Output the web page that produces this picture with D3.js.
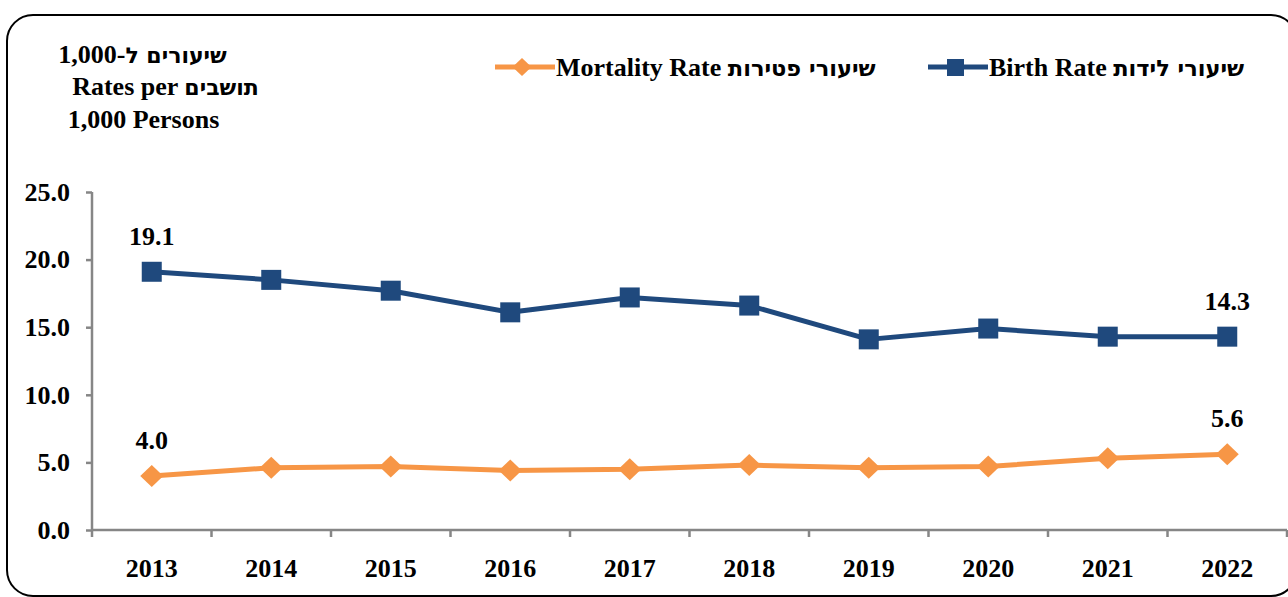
<!DOCTYPE html>
<html>
<head>
<meta charset="utf-8">
<script src="https://cdn.jsdelivr.net/npm/d3@7"></script>
<style>
  html, body { margin: 0; padding: 0; background: #fff; }
  svg { display: block; }
  text { font-family: "Liberation Serif", "Times New Roman", serif; font-weight: bold; fill: #000; }
  tspan.he { font-family: "DejaVu Sans", sans-serif; font-weight: bold; }
</style>
</head>
<body>
<script>
const years = ["2013","2014","2015","2016","2017","2018","2019","2020","2021","2022"];
const birthRate = [19.1, 18.5, 17.7, 16.1, 17.2, 16.6, 14.1, 14.9, 14.3, 14.3];
const mortalityRate = [4.0, 4.6, 4.7, 4.4, 4.5, 4.8, 4.6, 4.7, 5.3, 5.6];
const yTicks = [0, 5, 10, 15, 20, 25];
// text runs: [text, isHebrew]
const birthLabel = [["Birth Rate ", false], ["שיעורי לידות", true]];
const mortalityLabel = [["Mortality Rate ", false], ["שיעורי פטירות", true]];
const titleLines = [
  [["שיעורים ל", true], ["-1,000", false]],
  [["Rates per ", false], ["תושבים", true]],
  [["1,000 Persons", false]]
];

const W = 1288, H = 597;
const blue = "#1F497D", orange = "#F79646", axisGray = "#868686";

const svg = d3.select("body").append("svg").attr("width", W).attr("height", H);

function richText(sel, runs, heSize) {
  runs.forEach(([t, he]) => {
    const ts = sel.append("tspan").text(t);
    if (he) ts.attr("class", "he").style("font-size", heSize + "px");
  });
  return sel;
}

// frame
svg.append("rect").attr("x", 7).attr("y", 15).attr("width", 1290).attr("height", 581)
  .attr("rx", 26).attr("ry", 26).attr("fill", "none").attr("stroke", "#000").attr("stroke-width", 2);

const x = d3.scaleBand().domain(years).range([92, 1287]);
const y = d3.scaleLinear().domain([0, 25]).range([530, 192]);

// axes
const yAxis = svg.append("g").attr("transform", "translate(92,0)")
  .call(d3.axisLeft(y).tickValues(yTicks).tickFormat(d3.format(".1f")).tickSize(6).tickPadding(16));
const xAxis = svg.append("g").attr("transform", "translate(0,530)")
  .call(d3.axisBottom(x).tickSize(0).tickPadding(29));

[yAxis, xAxis].forEach(g => {
  g.select(".domain").attr("stroke", axisGray).attr("stroke-width", 2.5);
  g.selectAll(".tick line").attr("stroke", axisGray).attr("stroke-width", 2.5);
  g.selectAll(".tick text").style("font-size", "26px").style("font-family", "Liberation Serif").style("font-weight", "bold").attr("fill", "#000");
});
yAxis.select(".domain").attr("d", `M0,${y(25)}V${y(0)}`);
xAxis.select(".domain").attr("d", `M92,0H1287`);

// x boundary ticks
const bounds = years.map(d => x(d)).concat([x(years[years.length - 1]) + x.bandwidth()]);
xAxis.selectAll(".bt").data(bounds).enter().append("line")
  .attr("x1", d => d).attr("x2", d => d).attr("y1", 0).attr("y2", 7)
  .attr("stroke", axisGray).attr("stroke-width", 2.5);

const cx = i => x(years[i]) + x.bandwidth() / 2;
const line = d3.line().x((d, i) => cx(i)).y(d => y(d));

// birth rate
svg.append("path").datum(birthRate).attr("d", line).attr("fill", "none")
  .attr("stroke", blue).attr("stroke-width", 5).attr("stroke-linejoin", "round");
svg.selectAll(".sq").data(birthRate).enter().append("rect")
  .attr("x", (d, i) => cx(i) - 10).attr("y", d => y(d) - 10)
  .attr("width", 20).attr("height", 20).attr("fill", blue);

// mortality rate
svg.append("path").datum(mortalityRate).attr("d", line).attr("fill", "none")
  .attr("stroke", orange).attr("stroke-width", 5).attr("stroke-linejoin", "round");
const diamond = (px, py, w, h) => `M${px},${py - h / 2}L${px + w / 2},${py}L${px},${py + h / 2}L${px - w / 2},${py}Z`;
svg.selectAll(".dm").data(mortalityRate).enter().append("path")
  .attr("d", (d, i) => diamond(cx(i), y(d), 23, 22)).attr("fill", orange);

// data labels (first and last)
const labelIdx = [0, years.length - 1];
[birthRate, mortalityRate].forEach(series => {
  labelIdx.forEach(i => {
    svg.append("text").attr("x", cx(i)).attr("y", y(series[i]) - 27)
      .attr("text-anchor", "middle").style("font-size", "26px").text(series[i].toFixed(1));
  });
});

// legend
const lg = svg.append("g");
lg.append("line").attr("x1", 495).attr("x2", 555).attr("y1", 67).attr("y2", 67)
  .attr("stroke", orange).attr("stroke-width", 5);
lg.append("path").attr("d", diamond(522, 67, 19, 18)).attr("fill", orange);
richText(lg.append("text").attr("x", 556).attr("y", 76).style("font-size", "26px"), mortalityLabel, 22.5);

lg.append("line").attr("x1", 928).attr("x2", 988).attr("y1", 67).attr("y2", 67)
  .attr("stroke", blue).attr("stroke-width", 5);
lg.append("rect").attr("x", 947).attr("y", 59).attr("width", 17).attr("height", 17).attr("fill", blue);
richText(lg.append("text").attr("x", 989).attr("y", 76).style("font-size", "26px"), birthLabel, 22.5);

// title (units)
const tCenters = [142.5, 165.5, 143.5];
const tBase = [63, 95, 128];
titleLines.forEach((runs, i) => {
  const t = svg.append("text").attr("x", tCenters[i]).attr("y", tBase[i])
    .attr("text-anchor", "middle").attr("direction", i === 0 ? "rtl" : "ltr")
    .style("font-size", "26px");
  richText(t, runs, 22);
});
</script>
</body>
</html>
